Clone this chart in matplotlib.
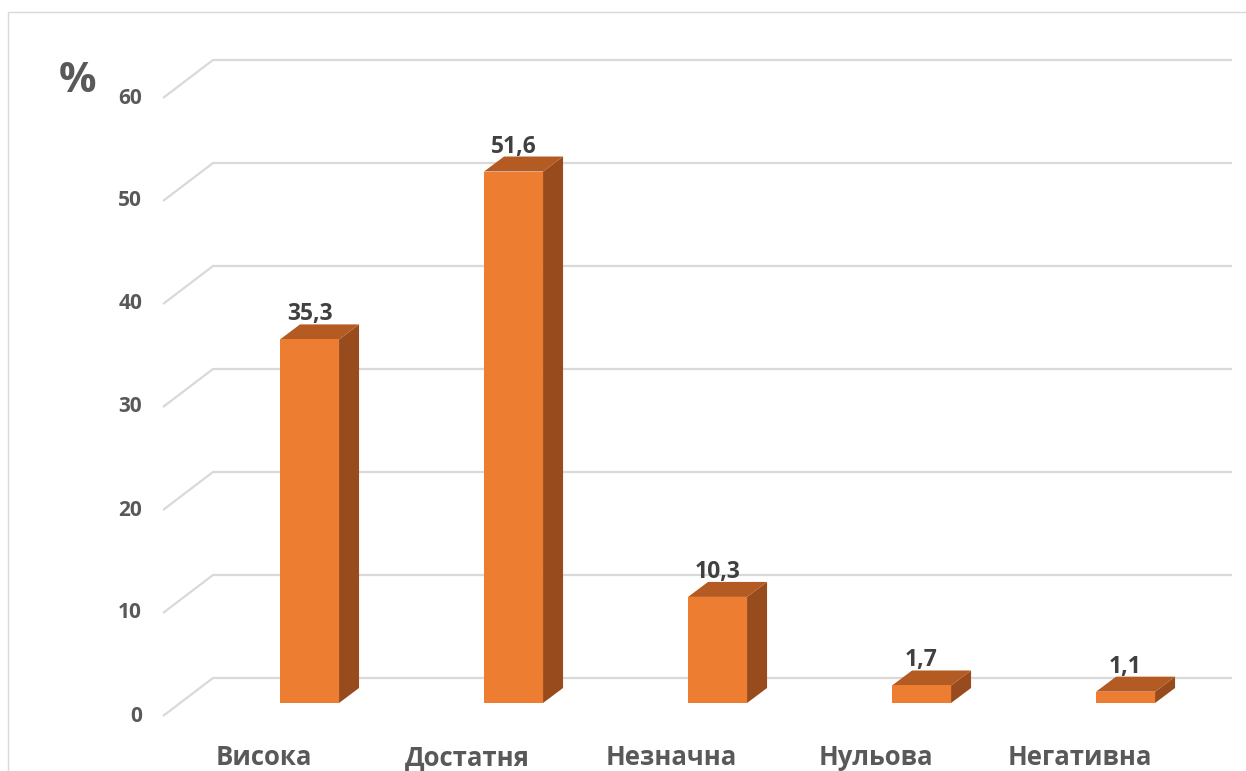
import matplotlib
matplotlib.use("Agg")
import matplotlib.pyplot as plt
from matplotlib.patches import Polygon, Rectangle

# ---- data ----
categories = ["Висока", "Достатня", "Незначна", "Нульова", "Негативна"]
values = [35.3, 51.6, 10.3, 1.7, 1.1]
value_labels = ["35,3", "51,6", "10,3", "1,7", "1,1"]
y_ticks = [0, 10, 20, 30, 40, 50, 60]
y_unit = "%"

# ---- style ----
plt.rcParams["font.family"] = ["Open Sans", "DejaVu Sans"]
FRONT = "#ED7D31"
SIDE = "#984C1E"
TOP = "#B45A23"
GRID = "#D9D9D9"
AXIS_TXT = "#595959"
VAL_TXT = "#404040"

W, H, DPI = 1246, 771, 100
fig = plt.figure(figsize=(W / DPI, H / DPI), dpi=DPI)

# plotting plane = front faces of the bars (pixel frame, measured from top)
left_px, right_px = 180, 1199
zero_px, top_px = 703, 85
ax = fig.add_axes([left_px / W, (H - zero_px) / H,
                   (right_px - left_px) / W, (zero_px - top_px) / H])
XMIN, XMAX = -0.635, 4.36
ax.set_xlim(XMIN, XMAX)
ax.set_ylim(y_ticks[0], y_ticks[-1])
ax.axis("off")

# pixel -> data scale, used for the oblique depth of the pseudo-3D view
sx = (XMAX - XMIN) / (right_px - left_px)
sy = (y_ticks[-1] - y_ticks[0]) / (zero_px - top_px)

def depth(dx_px, dy_px):
    return dx_px * sx, dy_px * sy

bar_dx, bar_dy = depth(20, 15)      # depth of a bar
fr_dx, fr_dy = depth(-17, -13)      # front edge of the floor
bk_dx, bk_dy = depth(33, 25)        # back wall

# gridlines: oblique segment on the left, horizontal along the back wall
for v in y_ticks:
    xs = [XMIN + fr_dx, XMIN + bk_dx, XMAX + bk_dx]
    ys = [v + fr_dy, v + bk_dy, v + bk_dy]
    ax.plot(xs, ys, color=GRID, lw=1.6, solid_capstyle="butt",
            clip_on=False, zorder=1)
    ax.annotate(str(v), (XMIN + fr_dx, v + fr_dy), xytext=(-21 * 0.72, 0),
                textcoords="offset points", ha="right", va="center",
                fontsize=15, fontweight="bold", color=AXIS_TXT,
                annotation_clip=False)

# bars
bw = 59 * sx
for i, (v, lab) in enumerate(zip(values, value_labels)):
    x0, x1 = i - bw / 2, i + bw / 2
    ax.add_patch(Polygon([(x1, 0), (x1 + bar_dx, bar_dy),
                          (x1 + bar_dx, v + bar_dy), (x1, v)],
                         closed=True, facecolor=SIDE, edgecolor="none",
                         zorder=3, clip_on=False))
    ax.add_patch(Polygon([(x0, v), (x1, v), (x1 + bar_dx, v + bar_dy),
                          (x0 + bar_dx, v + bar_dy)],
                         closed=True, facecolor=TOP, edgecolor="none",
                         zorder=3, clip_on=False))
    ax.bar(i, v, width=bw, color=FRONT, edgecolor="none", zorder=4,
           clip_on=False)
    ax.annotate(lab, (i, v), xytext=(0, 19 * 0.72), textcoords="offset points",
                ha="center", va="baseline", fontsize=16.5, fontweight="bold",
                color=VAL_TXT, annotation_clip=False)

# category labels along the front edge
for i, c in enumerate(categories):
    ax.annotate(c, (i, 0), xytext=(-46 * 0.72, -62 * 0.72),
                textcoords="offset points", ha="center", va="baseline",
                fontsize=18.5, fontweight="bold", color=AXIS_TXT,
                annotation_clip=False)

# unit label
fig.text(77 / W, 1 - 82 / H, y_unit, ha="center", va="center",
         fontsize=30, fontweight="bold", color=AXIS_TXT)

# chart-area frame
fig.patches.append(Rectangle((8 / W, -0.1), 1.2, 1.1 - 12 / H,
                             transform=fig.transFigure, fill=False,
                             edgecolor=GRID, lw=1.0))

fig.savefig("out.png", dpi=DPI)
